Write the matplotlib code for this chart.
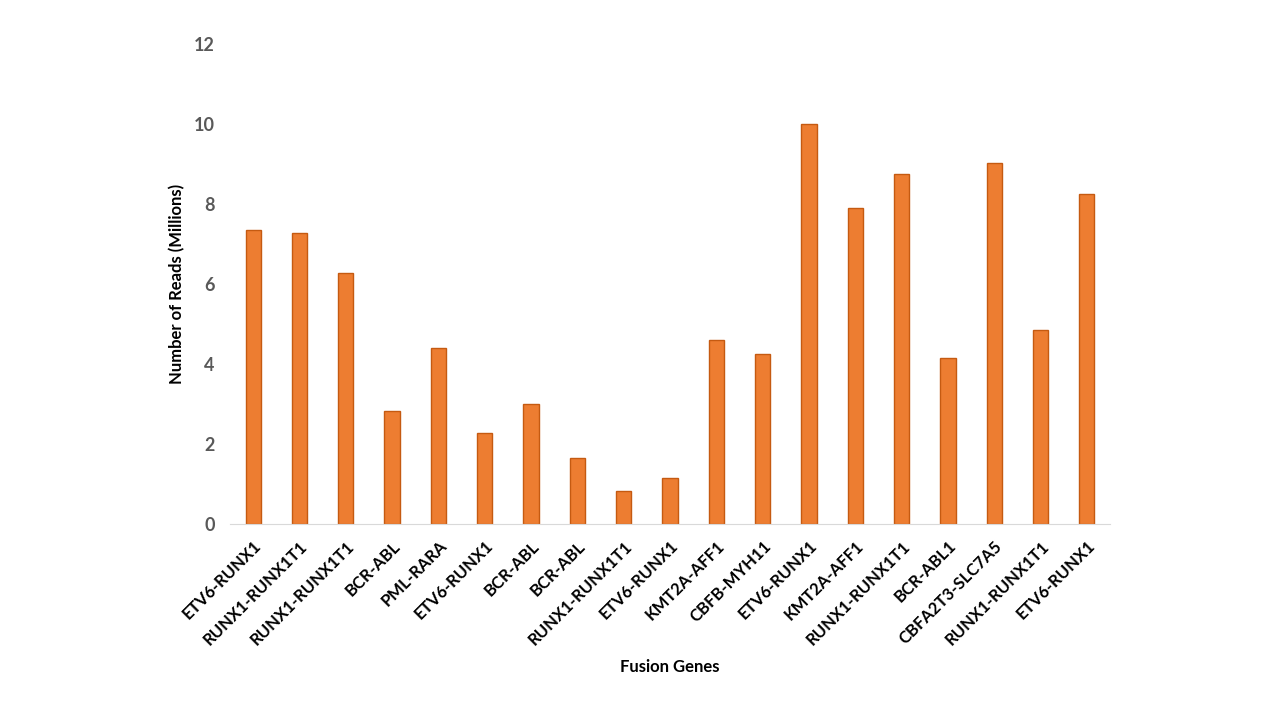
import numpy as np
import matplotlib.pyplot as plt

plt.rcParams['font.family'] = ['Lato', 'DejaVu Sans']

# fusion genes and read counts (millions)
genes = ["ETV6-RUNX1", "RUNX1-RUNX1T1", "RUNX1-RUNX1T1", "BCR-ABL", "PML-RARA",
         "ETV6-RUNX1", "BCR-ABL", "BCR-ABL", "RUNX1-RUNX1T1", "ETV6-RUNX1",
         "KMT2A-AFF1", "CBFB-MYH11", "ETV6-RUNX1", "KMT2A-AFF1", "RUNX1-RUNX1T1",
         "BCR-ABL1", "CBFA2T3-SLC7A5", "RUNX1-RUNX1T1", "ETV6-RUNX1"]
reads = [7.35, 7.28, 6.28, 2.83, 4.40, 2.28, 3.00, 1.65, 0.83, 1.15,
         4.60, 4.25, 10.0, 7.90, 8.75, 4.15, 9.03, 4.85, 8.25]

fig = plt.figure(figsize=(12.8, 7.2), dpi=100)
ax = fig.add_axes([230/1280, 196/720, 880/1280, 480/720])

x = np.arange(len(genes))
ax.bar(x, reads, width=0.33, color='#ED7D31', edgecolor='#C55A11', linewidth=1)

ax.set_xlim(-0.5, len(genes) - 0.5)
ax.set_ylim(0, 12)
ax.set_yticks(range(0, 13, 2))
ax.set_xticks(x)
ax.set_xticklabels(genes, rotation=45, ha='right', rotation_mode='anchor',
                   fontsize=12, fontweight='bold', color='#000000')
for lbl in ax.get_yticklabels():
    lbl.set_fontsize(13)
    lbl.set_fontweight('bold')
    lbl.set_color('#595959')

for s in ['top', 'right', 'left']:
    ax.spines[s].set_visible(False)
ax.spines['bottom'].set_color('#D9D9D9')
ax.tick_params(axis='both', length=0)
ax.tick_params(axis='y', pad=11)
ax.tick_params(axis='x', pad=10)

ax.set_ylabel('Number of Reads (Millions)', fontsize=12, fontweight='bold', labelpad=6)
ax.set_xlabel('Fusion Genes', fontsize=12, fontweight='bold', labelpad=8)

fig.savefig('out.png', dpi=100)
